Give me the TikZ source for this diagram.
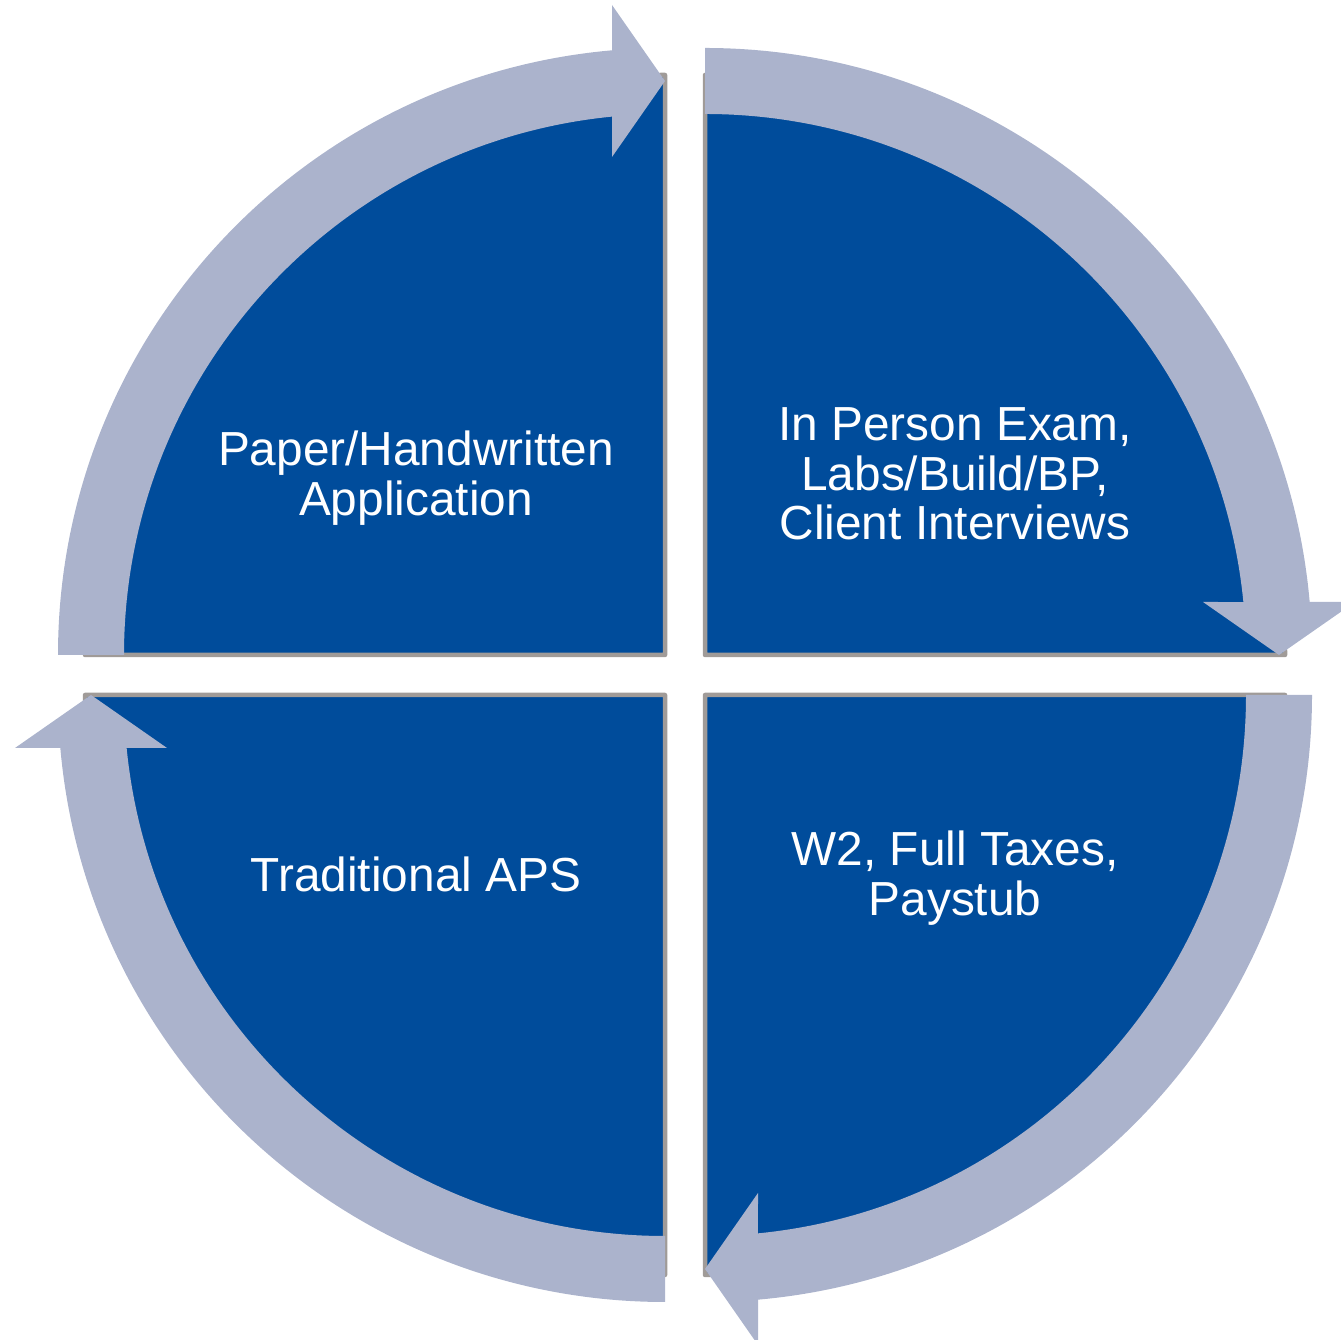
\documentclass[tikz,border=0pt]{standalone}
\usepackage{fontspec}
\setmainfont{Liberation Sans}
\definecolor{pieblue}{RGB}{0,76,155}
\definecolor{ringblue}{RGB}{171,179,204}
\definecolor{edgegray}{RGB}{160,155,152}
\tikzset{
  piece/.style={fill=pieblue, draw=edgegray, line width=4.5pt, line join=round},
  ring/.style={fill=ringblue},
  label/.style={text=white, align=center, font=\fontsize{47.8}{49.5}\selectfont}
}
% one quadrant: a quarter disc and its curved arrow, drawn in the
% top-left orientation and turned into place by the enclosing scope
\newcommand{\quadrant}{%
  \filldraw[piece] (0,0) -- (180:580) arc[start angle=180, end angle=90, radius=580] -- cycle;
  \fill[ring] (180:607) arc[start angle=180, end angle=95.01, radius=607]
    -- (-53,650) -- (0,574) -- (-53,498) -- (95.62:541)
    arc[start angle=95.62, end angle=180, radius=541] -- cycle;
}
\begin{document}
\begin{tikzpicture}[x=1pt,y=1pt]
\useasboundingbox (0,0) rectangle (1341,1340);
\begin{scope}[shift={(665,685)}]\quadrant\end{scope}
\begin{scope}[shift={(705,685)}, rotate=-90]\quadrant\end{scope}
\begin{scope}[shift={(705,645)}, rotate=180]\quadrant\end{scope}
\begin{scope}[shift={(665,645)}, rotate=90]\quadrant\end{scope}
\node[label] (app) at (416,862) {Paper/Handwritten\\Application};
\node[label] (exam) at (955,866) {In Person Exam,\\Labs/Build/BP,\\Client Interviews};
\node[label] (aps) at (416,466) {Traditional APS};
\node[label] (tax) at (955,462) {W2, Full Taxes,\\Paystub};
\end{tikzpicture}
\end{document}
